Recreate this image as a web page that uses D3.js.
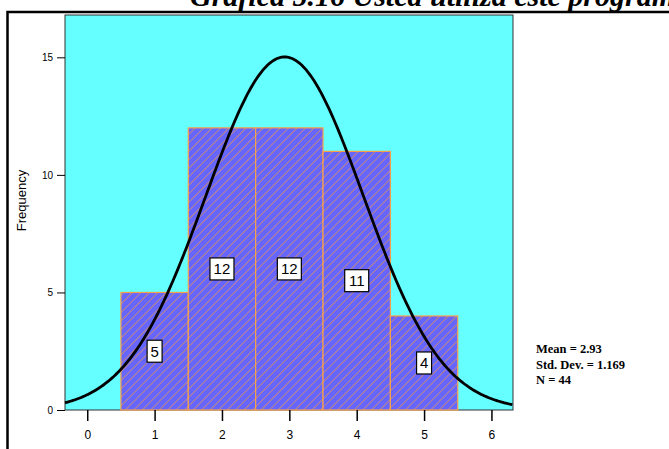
<!DOCTYPE html>
<html>
<head>
<meta charset="utf-8">
<script src="https://cdn.jsdelivr.net/npm/d3@7"></script>
<style>
    body { margin: 0; background: #fff; }
    svg { display: block; }
</style>
</head>
<body>
<svg id="drawing_region"></svg>
<script>
// histogram data
const bin_centers = [1, 2, 3, 4, 5];
const frequencies = [5, 12, 12, 11, 4];
const x_ticks = [0, 1, 2, 3, 4, 5, 6];
const y_ticks = [0, 5, 10, 15];
const stat_lines = ['Mean = 2.93', 'Std. Dev. = 1.169', 'N = 44'];
const mean = 2.93;
const std_dev = 1.169;
const n_total = 44;
const title_text = 'Gráfica 5.16 Usted utiliza este programa';

class Histogram {

    constructor(config) {
        this.config = {
            parent: config.parent,
            width: config.width || 669,
            height: config.height || 449,
            plot: config.plot
        };
        this.init();
    }

    init() {
        let self = this;
        let p = self.config.plot;

        self.svg = d3.select(self.config.parent)
            .attr('width', self.config.width)
            .attr('height', self.config.height);

        self.xscale = d3.scaleLinear()
            .domain([-0.33, 6.32])
            .range([p.left, p.right]);

        self.yscale = d3.scaleLinear()
            .domain([0, 16.8])
            .range([p.bottom, p.top]);

        // orange hatch over blue
        let defs = self.svg.append('defs');
        let pat = defs.append('pattern')
            .attr('id', 'hatch')
            .attr('patternUnits', 'userSpaceOnUse')
            .attr('width', 6)
            .attr('height', 6)
            .attr('patternTransform', 'rotate(45)');
        pat.append('rect')
            .attr('width', 6).attr('height', 6)
            .attr('fill', '#6666ff');
        pat.append('line')
            .attr('x1', 0).attr('y1', 0)
            .attr('x2', 0).attr('y2', 6)
            .attr('stroke', '#f49a3c')
            .attr('stroke-width', 1.2);
    }

    render() {
        let self = this;
        let p = self.config.plot;
        let x = self.xscale, y = self.yscale;

        // title (the reference shows it cut by the top of the window)
        self.svg.append('text')
            .attr('x', 190).attr('y', 6)
            .attr('font-family', '"Liberation Serif", serif')
            .attr('font-weight', 'bold')
            .attr('font-style', 'italic')
            .attr('font-size', 30)
            .text(title_text);

        // outer frame
        self.svg.append('path')
            .attr('d', `M7.5,${self.config.height} V12 H${self.config.width}`)
            .attr('fill', 'none')
            .attr('stroke', '#000')
            .attr('stroke-width', 2.5);

        self.svg.append('rect')
            .attr('x', p.left).attr('y', p.top)
            .attr('width', p.right - p.left)
            .attr('height', p.bottom - p.top)
            .attr('fill', '#66ffff')
            .attr('stroke', '#333')
            .attr('stroke-width', 1);

        // bars
        self.svg.selectAll('.bar')
            .data(bin_centers)
            .enter()
            .append('rect')
            .attr('class', 'bar')
            .attr('x', d => x(d - 0.5))
            .attr('y', (d, i) => y(frequencies[i]))
            .attr('width', d => x(d + 0.5) - x(d - 0.5))
            .attr('height', (d, i) => y(0) - y(frequencies[i]))
            .attr('fill', 'url(#hatch)')
            .attr('stroke', '#f7a04a')
            .attr('stroke-width', 1.2);

        // normal curve from the stated mean / sd / N
        let pdf = v => n_total / (std_dev * Math.sqrt(2 * Math.PI)) *
            Math.exp(-0.5 * Math.pow((v - mean) / std_dev, 2));
        let xs = d3.range(-0.33, 6.33, 0.02);
        self.svg.append('path')
            .datum(xs)
            .attr('d', d3.line().x(d => x(d)).y(d => y(pdf(d))))
            .attr('fill', 'none')
            .attr('stroke', '#000')
            .attr('stroke-width', 2.8);

        // value labels
        let labels = self.svg.selectAll('.lab')
            .data(bin_centers)
            .enter()
            .append('g')
            .attr('class', 'lab')
            .attr('transform', (d, i) => `translate(${x(d)},${y(frequencies[i] / 2)})`);
        labels.append('rect')
            .attr('x', (d, i) => frequencies[i] >= 10 ? -12 : -7.5)
            .attr('y', -11)
            .attr('width', (d, i) => frequencies[i] >= 10 ? 24 : 15)
            .attr('height', 22)
            .attr('fill', '#fff')
            .attr('stroke', '#000')
            .attr('stroke-width', 1.2);
        labels.append('text')
            .attr('text-anchor', 'middle')
            .attr('dy', '0.36em')
            .attr('font-family', 'Arial, "Liberation Sans", sans-serif')
            .attr('font-size', 15)
            .text((d, i) => frequencies[i]);

        // axes
        let xaxis = d3.axisBottom(x)
            .tickValues(x_ticks)
            .tickFormat(d3.format('d'))
            .tickSize(11)
            .tickPadding(9);
        let xg = self.svg.append('g')
            .attr('transform', `translate(0,${p.bottom})`)
            .call(xaxis);
        xg.select('.domain').remove();
        xg.selectAll('line').attr('stroke-width', 1.5);
        xg.selectAll('text')
            .attr('font-family', 'Arial, "Liberation Sans", sans-serif')
            .attr('font-size', 12)
            .attr('fill', '#000');

        let yaxis = d3.axisLeft(y)
            .tickValues(y_ticks)
            .tickFormat(d3.format('d'))
            .tickSize(8)
            .tickPadding(4);
        let yg = self.svg.append('g')
            .attr('transform', `translate(${p.left},0)`)
            .call(yaxis);
        yg.select('.domain').remove();
        yg.selectAll('text')
            .attr('font-family', 'Arial, "Liberation Sans", sans-serif')
            .attr('font-size', 10)
            .attr('fill', '#000');

        self.svg.append('text')
            .attr('transform', `translate(26,${(p.top + p.bottom) / 2 - 12}) rotate(-90)`)
            .attr('text-anchor', 'middle')
            .attr('font-family', 'Arial, "Liberation Sans", sans-serif')
            .attr('font-size', 13)
            .text('Frequency');

        // summary stats
        self.svg.selectAll('.stat')
            .data(stat_lines)
            .enter()
            .append('text')
            .attr('class', 'stat')
            .attr('x', 536)
            .attr('y', (d, i) => 353 + i * 15.5)
            .attr('font-family', '"Liberation Serif", serif')
            .attr('font-weight', 'bold')
            .attr('font-size', 12.5)
            .text(d => d);
    }
}

const chart = new Histogram({
    parent: '#drawing_region',
    width: 669,
    height: 449,
    plot: { left: 65, right: 513, top: 15, bottom: 410 }
});
chart.render();
</script>
</body>
</html>
